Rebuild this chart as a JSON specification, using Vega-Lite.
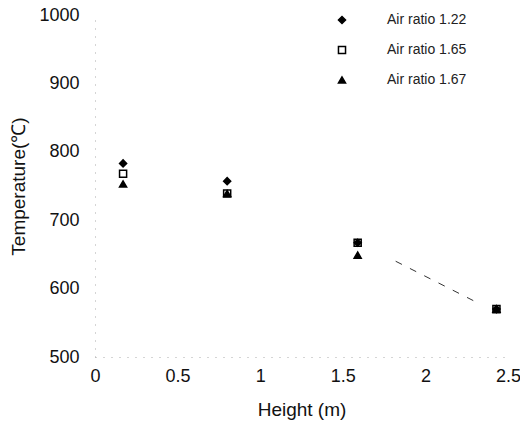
{
  "$schema": "https://vega.github.io/schema/vega-lite/v6.json",
  "width": 413,
  "height": 342,
  "autosize": "none",
  "padding": {"left": 95, "top": 15, "right": 12, "bottom": 75},
  "background": "white",
  "config": {
    "view": {"stroke": null},
    "font": "Liberation Sans",
    "axis": {"grid": false, "ticks": false, "labelFont": "Liberation Sans", "titleFont": "Liberation Sans", "labelColor": "#111", "titleColor": "#111", "titleFontWeight": "normal", "domainColor": "#aaa", "domainDash": [1, 7], "domainWidth": 1}
  },
  "datasets": {
    "pts": [
      {"height": 0.17, "temp": 768, "series": "Air ratio 1.65"},
      {"height": 0.8, "temp": 739, "series": "Air ratio 1.65"},
      {"height": 1.59, "temp": 667, "series": "Air ratio 1.65"},
      {"height": 2.43, "temp": 570, "series": "Air ratio 1.65"},
      {"height": 0.17, "temp": 783, "series": "Air ratio 1.22"},
      {"height": 0.8, "temp": 757, "series": "Air ratio 1.22"},
      {"height": 1.59, "temp": 667, "series": "Air ratio 1.22"},
      {"height": 2.43, "temp": 570, "series": "Air ratio 1.22"},
      {"height": 0.17, "temp": 753, "series": "Air ratio 1.67"},
      {"height": 0.8, "temp": 739, "series": "Air ratio 1.67"},
      {"height": 1.59, "temp": 649, "series": "Air ratio 1.67"},
      {"height": 2.43, "temp": 570, "series": "Air ratio 1.67"}
    ],
    "trend": [
      {"height": 1.82, "temp": 640},
      {"height": 2.31, "temp": 580}
    ]
  },
  "layer": [
    {
      "data": {"name": "trend"},
      "mark": {"type": "line", "color": "#333", "strokeWidth": 1, "strokeDash": [7, 9]},
      "encoding": {
        "x": {"field": "height", "type": "quantitative"},
        "y": {"field": "temp", "type": "quantitative"}
      }
    },
    {
      "data": {"name": "pts"},
      "mark": {"type": "point", "filled": true, "stroke": "black", "strokeWidth": 1.5, "size": 50, "opacity": 1},
      "encoding": {
        "x": {"field": "height", "type": "quantitative", "scale": {"domain": [0, 2.5], "nice": false}, "axis": {"values": [0, 0.5, 1, 1.5, 2, 2.5], "labelExpr": "datum.value == 0 ? '0' : format(datum.value, '~g')", "title": "Height (m)", "labelFontSize": 18, "titleFontSize": 19, "labelPadding": 10, "titlePadding": 15, "labelFlush": false}},
        "y": {"field": "temp", "type": "quantitative", "scale": {"domain": [500, 1000], "nice": false, "zero": false}, "axis": {"values": [500, 600, 700, 800, 900, 1000], "format": "d", "title": "Temperature(℃)", "labelFontSize": 18, "titleFontSize": 19, "labelPadding": 16, "titlePadding": 10, "labelFlush": false}},
        "shape": {"field": "series", "type": "nominal", "scale": {"domain": ["Air ratio 1.22", "Air ratio 1.65", "Air ratio 1.67"], "range": ["diamond", "square", "triangle-up"]}, "legend": {"title": null, "orient": "none", "legendX": 240, "legendY": -2, "labelFontSize": 14, "labelFont": "Liberation Sans", "labelColor": "#222", "rowPadding": 16, "labelOffset": 38, "symbolSize": 50, "encode": {"symbols": {"update": {"stroke": {"value": "black"}, "strokeWidth": {"value": 1.5}}}}}},
        "fill": {"field": "series", "type": "nominal", "scale": {"domain": ["Air ratio 1.22", "Air ratio 1.65", "Air ratio 1.67"], "range": ["black", "white", "black"]}, "legend": {"title": null, "orient": "none", "legendX": 240, "legendY": -2, "labelFontSize": 14, "labelFont": "Liberation Sans", "labelColor": "#222", "rowPadding": 16, "labelOffset": 38, "symbolSize": 50, "encode": {"symbols": {"update": {"stroke": {"value": "black"}, "strokeWidth": {"value": 1.5}}}}}}
      }
    }
  ]
}
